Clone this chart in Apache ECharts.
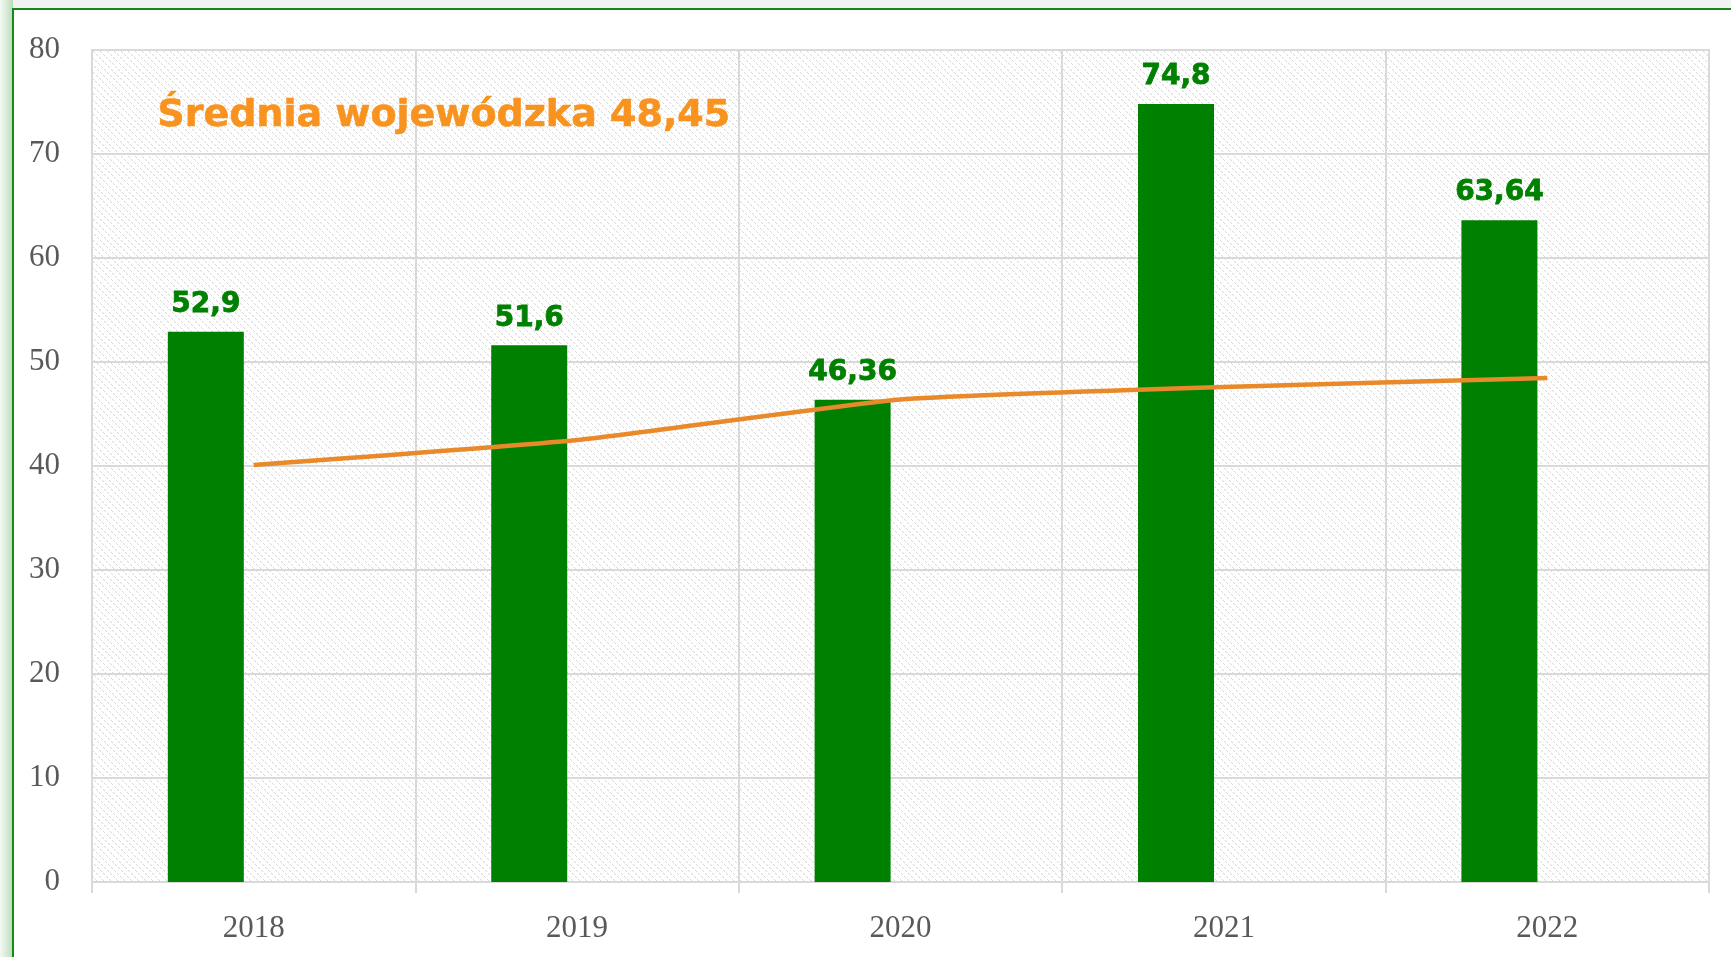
<!DOCTYPE html>
<html>
<head>
<meta charset="utf-8">
<script src="https://cdn.jsdelivr.net/npm/echarts@6/dist/echarts.min.js"></script>
<style>
  html, body { margin: 0; padding: 0; background: #fff; }
  #chart { width: 1731px; height: 957px; }
</style>
</head>
<body>
<div id="chart"></div>
<script>
var years = ["2018", "2019", "2020", "2021", "2022"];
var values = [52.9, 51.6, 46.36, 74.8, 63.64];
var average = [40.1, 42.5, 46.4, 47.6, 48.45];
var yTicks = [0, 10, 20, 30, 40, 50, 60, 70, 80];
var title = "Średnia wojewódzka 48,45";

// dashed diagonal hatch for the plot area
function makeHatch() {
  var n = 21;
  var c = document.createElement("canvas");
  c.width = n;
  c.height = n;
  var ctx = c.getContext("2d");
  ctx.fillStyle = "#ffffff";
  ctx.fillRect(0, 0, n, n);
  ctx.fillStyle = "#d6d6d6";
  for (var y = 0; y < n; y++) {
    for (var x = 0; x < n; x++) {
      if ((((x - y) % 7) + 7) % 7 === 0 && y % 3 !== 2) ctx.fillRect(x, y, 1, 1);
    }
  }
  return c;
}

var chart = echarts.init(document.getElementById("chart"));

var option = {
  animation: false,
  grid: {
    left: 92,
    right: 22,
    top: 50,
    bottom: 75,
    show: true,
    borderColor: "#d9d9d9",
    borderWidth: 2,
    backgroundColor: { image: makeHatch(), repeat: "repeat" },
  },
  graphic: [
    { type: "rect", z: -10, shape: { x: 0, y: 0, width: 1731, height: 9 }, style: { fill: "#f1f2f1" } },
    {
      type: "rect", z: -10, shape: { x: 0, y: 0, width: 13, height: 957 },
      style: {
        fill: new echarts.graphic.LinearGradient(0, 0, 1, 0, [
          { offset: 0, color: "#f4f9f4" },
          { offset: 1, color: "#b9dcb9" },
        ]),
      },
    },
    { type: "rect", z: 100, shape: { x: 13, y: 9, width: 1800, height: 1000 }, style: { fill: "none", stroke: "#168a16", lineWidth: 2 } },
    {
      type: "text", z: 100, left: 157, top: 97,
      style: {
        text: title, fill: "#f7931e", font: "bold 38px 'DejaVu Sans'",
        stroke: "#f7931e", lineWidth: 0.6,
      },
    },
  ],
  xAxis: {
    type: "category",
    data: years,
    boundaryGap: true,
    axisLine: { show: true, lineStyle: { color: "#d9d9d9", width: 2 } },
    axisTick: { show: true, length: 11, lineStyle: { color: "#d9d9d9", width: 2 } },
    axisLabel: { color: "#595959", fontSize: 31, fontFamily: "Liberation Serif", margin: 31 },
    splitLine: { show: true, lineStyle: { color: "#d9d9d9", width: 2 } },
  },
  yAxis: {
    type: "value",
    min: 0,
    max: 80,
    interval: 10,
    axisLine: { show: false },
    axisTick: { show: false },
    axisLabel: { color: "#595959", fontSize: 31, fontFamily: "Liberation Serif", margin: 32 },
    splitLine: { show: true, lineStyle: { color: "#d9d9d9", width: 2 } },
  },
  series: [
    {
      name: "wartość",
      type: "bar",
      barWidth: 76,
      barGap: "26%",
      data: values,
      itemStyle: { color: "#008000" },
      label: {
        show: true,
        position: "top",
        distance: 13,
        color: "#008000",
        fontSize: 28,
        fontWeight: "bold",
        fontFamily: "DejaVu Sans",
        textBorderColor: "#008000",
        textBorderWidth: 0.8,
        formatter: function (p) {
          return String(p.value).replace(".", ",");
        },
      },
    },
    {
      name: "puste",
      type: "bar",
      barWidth: 76,
      data: years.map(function () { return "-"; }),
    },
    {
      name: "Średnia wojewódzka",
      type: "line",
      data: average,
      smooth: 0.15,
      symbol: "none",
      lineStyle: { color: "#e8892a", width: 4.5 },
      z: 5,
    },
  ],
};

chart.setOption(option);
</script>
</body>
</html>
